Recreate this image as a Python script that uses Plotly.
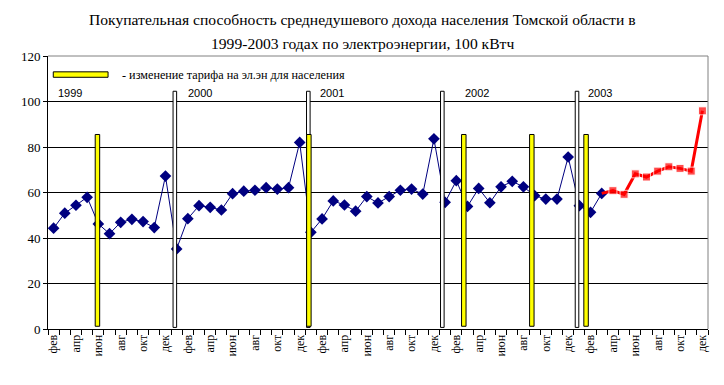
import plotly.graph_objects as go

# ---------------- data ----------------
month_names = ["янв", "фев", "мар", "апр", "май", "июн",
               "июл", "авг", "сен", "окт", "ноя", "дек"]
years = ["1999", "2000", "2001", "2002", "2003"]

# monthly purchasing power, фев 1999 .. мар 2003 (blue series)
blue_values = [44.3, 50.9, 54.4, 57.9, 46.2, 41.9, 46.9, 48.2, 47.2, 44.6, 67.2,
               35.2, 48.5, 54.2, 53.5, 52.3, 59.5, 60.6, 61.0, 62.1, 61.5, 62.1, 82.0,
               42.5, 48.4, 56.3, 54.5, 51.8, 58.2, 55.4, 58.2, 61.0, 61.5, 59.3, 83.6,
               55.7, 65.2, 53.9, 61.8, 55.5, 62.5, 64.9, 62.5, 58.6, 57.1, 57.1, 75.6,
               54.2, 51.3, 59.6]
# апр 2003 .. дек 2003 (red series)
red_values = [60.8, 59.2, 68.2, 66.8, 69.4, 71.3, 70.6, 69.4, 95.9]

# events (in category-index units)
tariff_change_pos = [3.92, 22.82, 36.67, 42.75, 47.6]
year_boundary_pos = [10.84, 22.77, 34.75, 46.79]

y_ticks = [0, 20, 40, 60, 80, 100, 120]

title_line1 = "Покупательная способность среднедушевого дохода населения Томской области в"
title_line2 = "1999-2003 годах по электроэнергии, 100 кВтч"
legend_text = "- изменение тарифа на эл.эн для населения"

# ---------------- build categories ----------------
categories = []
for yi, yr in enumerate(years):
    for mi, m in enumerate(month_names):
        if yi == 0 and mi == 0:
            continue
        categories.append(m)
n = len(categories)
x_all = list(range(n))
x_blue = x_all[:len(blue_values)]
x_red = x_all[len(blue_values) - 1:len(blue_values) + len(red_values)]
y_red = [blue_values[-1]] + red_values

tick_vals = x_all[::2]
tick_text = categories[::2]

SERIF = "Liberation Serif, Times New Roman, serif"
SANS = "Liberation Sans, Arial, sans-serif"

fig = go.Figure()
fig.add_trace(go.Scatter(
    x=x_blue, y=blue_values, mode="lines+markers",
    line=dict(color="#000080", width=1),
    marker=dict(symbol="diamond", size=9, color="#000080"),
    showlegend=False, hoverinfo="skip"))
fig.add_trace(go.Scatter(
    x=x_red, y=y_red, mode="lines+markers",
    line=dict(color="#FF0000", width=3),
    marker=dict(symbol="square", size=[0] + [8] * len(red_values), color="#FF0000"),
    showlegend=False, hoverinfo="skip"))

shapes = []
# year boundary bars (white)
for p in year_boundary_pos:
    shapes.append(dict(type="rect", xref="x", yref="y",
                       x0=p - 0.16, x1=p + 0.16, y0=0.7, y1=104.5,
                       fillcolor="white", line=dict(color="black", width=1), layer="above"))
# tariff change bars (yellow)
for p in tariff_change_pos:
    shapes.append(dict(type="rect", xref="x", yref="y",
                       x0=p - 0.2, x1=p + 0.2, y0=1.2, y1=85.5,
                       fillcolor="#FFFF00", line=dict(color="black", width=1), layer="above"))
# grey plot border top and right
shapes.append(dict(type="line", xref="paper", yref="paper", x0=0, x1=1, y0=1, y1=1,
                   line=dict(color="#808080", width=1), layer="above"))
shapes.append(dict(type="line", xref="paper", yref="paper", x0=1, x1=1, y0=0, y1=1,
                   line=dict(color="#808080", width=1), layer="above"))
# legend swatch
shapes.append(dict(type="rect", xref="paper", yref="paper",
                   x0=0.008, x1=0.091, y0=0.922, y1=0.942,
                   fillcolor="#FFFF00", line=dict(color="black", width=1), layer="above"))

annotations = [
    dict(xref="paper", yref="paper", x=0.4758, y=1.1319, text=title_line1, showarrow=False,
         xanchor="center", yanchor="middle", font=dict(family=SERIF, size=15.6, color="black")),
    dict(xref="paper", yref="paper", x=0.4758, y=1.0476, text=title_line2, showarrow=False,
         xanchor="center", yanchor="middle", font=dict(family=SERIF, size=15.6, color="black")),
    dict(xref="paper", yref="paper", x=0.109, y=0.931, text=legend_text,
         showarrow=False, xanchor="left", yanchor="middle",
         font=dict(family=SERIF, size=12.2, color="black")),
]
year_label_x = [0.25, 11.85, 23.6, 36.6, 47.6]
for yr, xp in zip(years, year_label_x):
    annotations.append(dict(xref="x", yref="y", x=xp, y=103.8, text=yr, showarrow=False,
                            xanchor="left", yanchor="middle",
                            font=dict(family=SANS, size=11, color="black")))

# page body has an 8px margin: figure is 716x377 placed at (8,8) in the 724x385 window
fig.update_layout(
    width=716, height=377,
    margin=dict(l=40, r=16, t=48, b=56),
    paper_bgcolor="white", plot_bgcolor="white",
    shapes=shapes, annotations=annotations,
    xaxis=dict(range=[-0.5, n - 0.5], tickmode="array", tickvals=tick_vals, ticktext=tick_text,
               tickangle=-90, ticks="", showgrid=False, zeroline=False,
               showline=True, linecolor="black", linewidth=1,
               tickfont=dict(family=SERIF, size=12, color="black"),
               minor=dict(ticks="outside", tickmode="linear", tick0=-0.5, dtick=1,
                          ticklen=5, tickcolor="black", showgrid=False)),
    yaxis=dict(range=[0, 120], tickmode="array", tickvals=y_ticks,
               ticks="outside", ticklen=4, tickcolor="black",
               showgrid=True, gridcolor="black", gridwidth=1, zeroline=False,
               showline=True, linecolor="black", linewidth=1,
               tickfont=dict(family=SERIF, size=13, color="black")),
)

fig.write_html("out.html")
